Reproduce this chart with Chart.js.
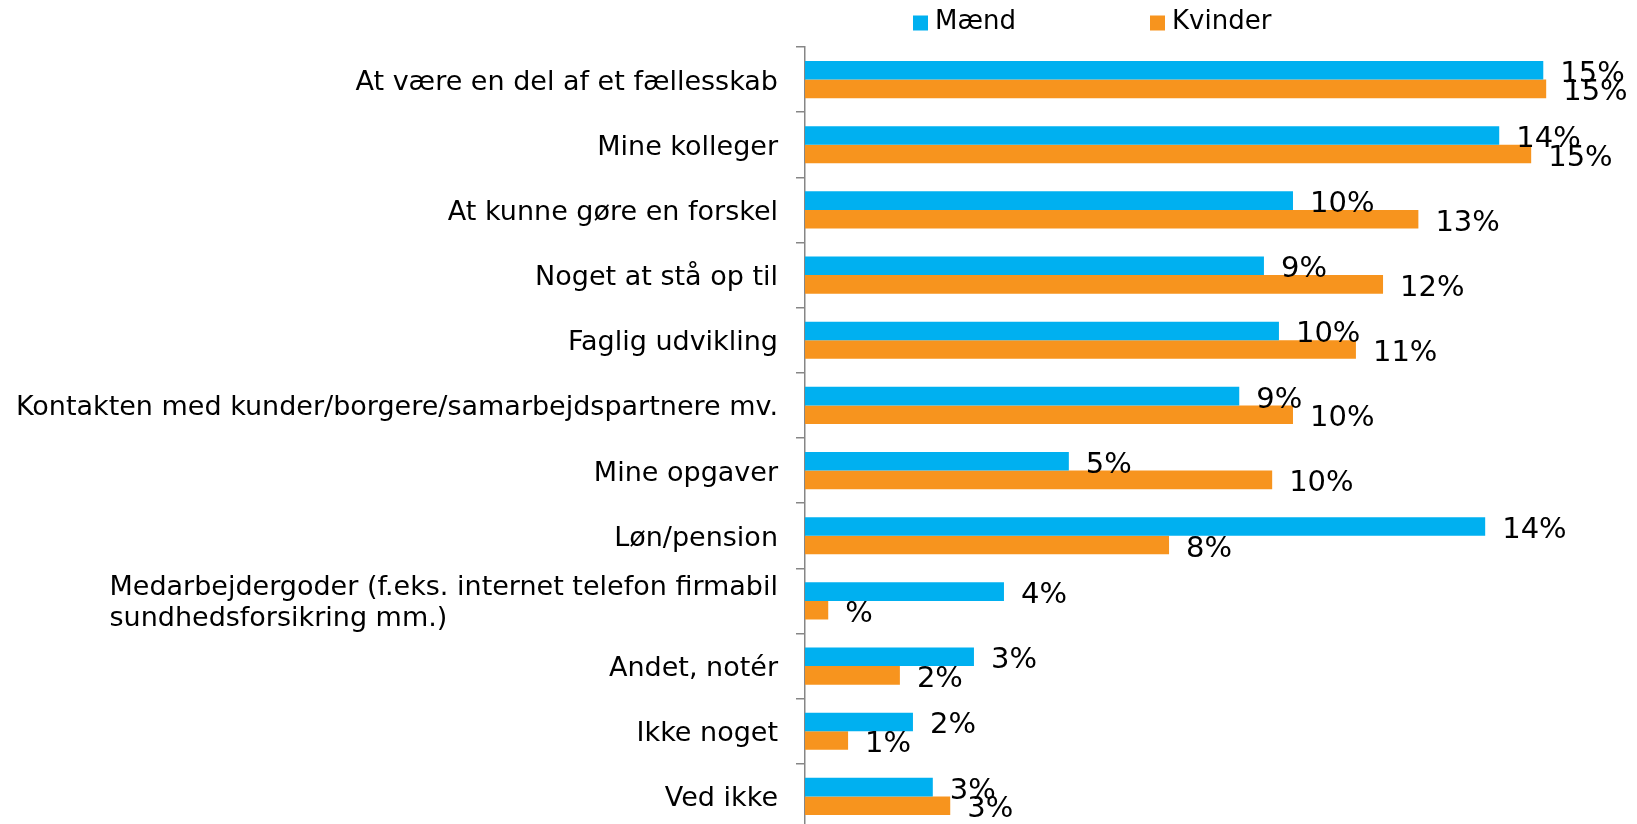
<!DOCTYPE html>
<html>
<head>
<meta charset="utf-8">
<script src="https://cdn.jsdelivr.net/npm/chart.js@4/dist/chart.umd.min.js"></script>
<style>
  html, body { margin: 0; padding: 0; background: #ffffff; overflow: hidden; }
  #wrap { width: 1637px; height: 824px; position: relative; overflow: hidden; }
  #c { display: block; }
</style>
</head>
<body>
<div id="wrap"><canvas id="c" width="1637" height="829"></canvas></div>
<script>
const categories = [
  'At være en del af et fællesskab',
  'Mine kolleger',
  'At kunne gøre en forskel',
  'Noget at stå op til',
  'Faglig udvikling',
  'Kontakten med kunder/borgere/samarbejdspartnere mv.',
  'Mine opgaver',
  'Løn/pension',
  ['Medarbejdergoder (f.eks. internet telefon firmabil', 'sundhedsforsikring mm.)'],
  'Andet, notér',
  'Ikke noget',
  'Ved ikke'
];
const seriesNames = ['Mænd', 'Kvinder'];
const menValues   = [15.25, 14.34, 10.08, 9.48, 9.79, 8.97, 5.45, 14.05, 4.11, 3.49, 2.23, 2.64];
const womenValues = [15.31, 15.00, 12.67, 11.94, 11.38, 10.08, 9.65, 7.52, 0.48, 1.96, 0.89, 3.00];
const menLabels   = ['15%', '14%', '10%', '9%', '10%', '9%', '5%', '14%', '4%', '3%', '2%', '3%'];
const womenLabels = ['15%', '15%', '13%', '12%', '11%', '10%', '10%', '8%', '%', '2%', '1%', '3%'];
const seriesColors = ['#00B0F0', '#F7941E'];

const FONT = "'DejaVu Sans', Verdana, sans-serif";

const valueLabelPlugin = {
  id: 'valueLabels',
  afterDatasetsDraw(chart) {
    const ctx = chart.ctx;
    ctx.save();
    ctx.font = '29px ' + FONT;
    ctx.fillStyle = '#000000';
    ctx.textAlign = 'left';
    ctx.textBaseline = 'middle';
    chart.data.datasets.forEach((ds, di) => {
      const meta = chart.getDatasetMeta(di);
      meta.data.forEach((bar, i) => {
        ctx.fillText(ds.valueLabels[i], bar.x + 17, bar.y + 4);
      });
    });
    ctx.restore();
  }
};

const categoryLabelPlugin = {
  id: 'categoryLabels',
  afterDraw(chart) {
    const ctx = chart.ctx;
    const scale = chart.scales.y;
    const right = chart.chartArea.left - 27;
    const lineH = 31;
    ctx.save();
    ctx.font = '27px ' + FONT;
    ctx.fillStyle = '#000000';
    ctx.textBaseline = 'middle';
    chart.data.labels.forEach((lab, i) => {
      const lines = Array.isArray(lab) ? lab : [lab];
      const yc = scale.getPixelForValue(i) + 3;
      const maxW = Math.max(...lines.map(l => ctx.measureText(l).width));
      lines.forEach((l, j) => {
        const y = yc + (j - (lines.length - 1) / 2) * lineH;
        if (lines.length > 1) {
          ctx.textAlign = 'left';
          ctx.fillText(l, right - maxW, y);
        } else {
          ctx.textAlign = 'right';
          ctx.fillText(l, right, y);
        }
      });
    });
    ctx.restore();
  }
};

const legendPlugin = {
  id: 'customLegend',
  afterDraw(chart) {
    const ctx = chart.ctx;
    const startX = 913, stepX = 237, yc = 22, box = 15;
    ctx.save();
    ctx.font = '26px ' + FONT;
    ctx.textBaseline = 'middle';
    ctx.textAlign = 'left';
    chart.data.datasets.forEach((ds, i) => {
      const x = startX + i * stepX;
      ctx.fillStyle = ds.backgroundColor;
      ctx.fillRect(x, yc - box / 2 + 1, box, box);
      ctx.fillStyle = '#000000';
      ctx.fillText(ds.label, x + box + 7, yc);
    });
    ctx.restore();
  }
};

new Chart(document.getElementById('c'), {
  type: 'bar',
  data: {
    labels: categories,
    datasets: [
      { label: seriesNames[0], data: menValues, backgroundColor: seriesColors[0], valueLabels: menLabels },
      { label: seriesNames[1], data: womenValues, backgroundColor: seriesColors[1], valueLabels: womenLabels }
    ]
  },
  options: {
    indexAxis: 'y',
    responsive: false,
    devicePixelRatio: 1,
    animation: false,
    layout: { padding: { top: 47, right: 9, bottom: 0, left: 0 } },
    datasets: { bar: { categoryPercentage: 0.57, barPercentage: 1.0 } },
    plugins: {
      legend: { display: false },
      tooltip: { enabled: false },
      title: { display: false }
    },
    scales: {
      x: { display: false, min: 0, max: 17 },
      y: {
        offset: true,
        afterFit(scale) { scale.width = 805; },
        border: { display: true, color: '#868686', width: 1.5 },
        grid: { display: true, offset: true, drawOnChartArea: false, drawTicks: true, tickLength: 9, color: '#868686', lineWidth: 1.5 },
        ticks: { display: false }
      }
    }
  },
  plugins: [valueLabelPlugin, categoryLabelPlugin, legendPlugin]
});
</script>
</body>
</html>
